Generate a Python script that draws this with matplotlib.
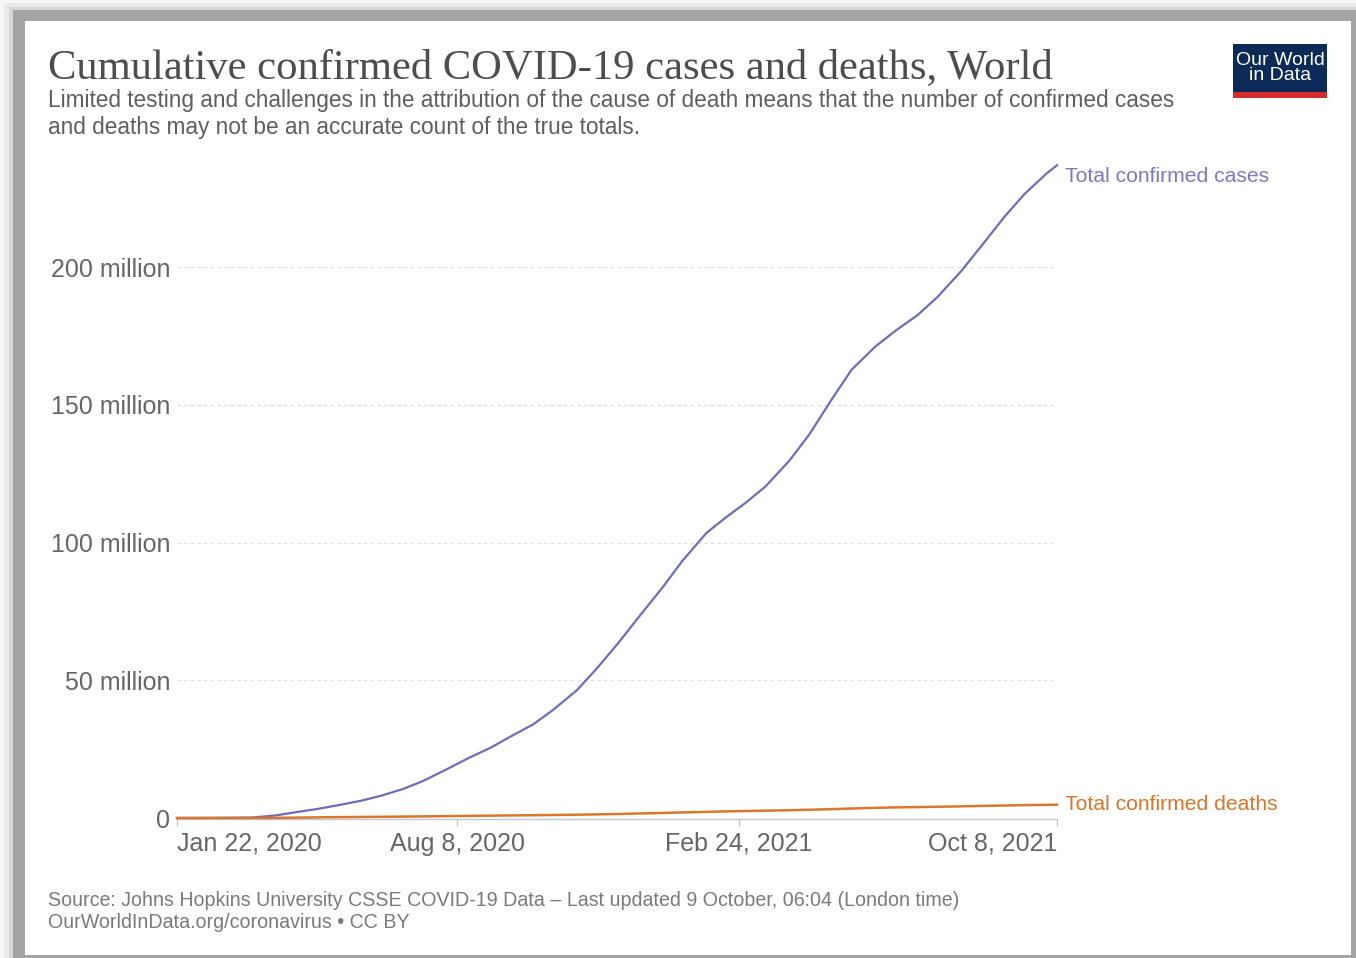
"""Cumulative confirmed COVID-19 cases and deaths, World (Our World in Data style)."""

import numpy as np
import matplotlib
matplotlib.use("Agg")
import matplotlib.pyplot as plt
import matplotlib.dates as mdates
from matplotlib.patches import Rectangle

W, H = 1356, 958

# Twice-monthly snapshots of the world totals (millions)
dates = np.array([
    "2020-01-22", "2020-03-01", "2020-03-15", "2020-04-01", "2020-04-15",
    "2020-05-01", "2020-05-15", "2020-06-01", "2020-06-15", "2020-07-01",
    "2020-07-15", "2020-08-01", "2020-08-15", "2020-09-01", "2020-09-15",
    "2020-10-01", "2020-10-15", "2020-11-01", "2020-11-15", "2020-12-01",
    "2020-12-15", "2021-01-01", "2021-01-15", "2021-02-01", "2021-02-15",
    "2021-03-01", "2021-03-15", "2021-04-01", "2021-04-15", "2021-05-01",
    "2021-05-15", "2021-06-01", "2021-06-15", "2021-07-01", "2021-07-15",
    "2021-08-01", "2021-08-15", "2021-09-01", "2021-09-15", "2021-10-01",
    "2021-10-08",
], dtype="datetime64[D]")
cases_m = [0.0006, 0.088, 0.167, 0.93, 2.08,
           3.3, 4.6, 6.3, 8.1, 10.6,
           13.5, 17.8, 21.5, 25.6, 29.6,
           34.0, 39.2, 46.4, 54.2, 63.9,
           73.0, 83.8, 93.4, 103.5, 109.2,
           114.5, 120.4, 129.8, 139.2, 152.0,
           162.7, 171.2, 176.8, 182.6, 189.1,
           198.6, 207.5, 218.5, 226.6, 234.2,
           237.0]
deaths_m = [0.00002, 0.003, 0.0065, 0.047, 0.136,
            0.234, 0.31, 0.375, 0.44, 0.513,
            0.58, 0.68, 0.77, 0.85, 0.94,
            1.01, 1.1, 1.19, 1.31, 1.47,
            1.64, 1.83, 2.03, 2.23, 2.41,
            2.54, 2.67, 2.82, 3.0, 3.21,
            3.44, 3.69, 3.86, 3.96, 4.08,
            4.23, 4.39, 4.54, 4.68, 4.78,
            4.84]

tick_dates = np.array(["2020-01-22", "2020-08-08", "2021-02-24", "2021-10-08"],
                      dtype="datetime64[D]")
tick_labels = ["Jan 22, 2020", "Aug 8, 2020", "Feb 24, 2021", "Oct 8, 2021"]
y_ticks_m = [0, 50, 100, 150, 200]
y_labels = ["0", "50 million", "100 million", "150 million", "200 million"]

CASES_C = "#6f6db8"
DEATHS_C = "#d9782d"
SANS = "Liberation Sans"


def fx(px):
    return px / W


def fy(py):
    return 1 - py / H


fig = plt.figure(figsize=(W / 100, H / 100), dpi=100)
fig.patch.set_facecolor("#f6f6f6")

# screenshot frame: soft grey shadow bands, then the white card
for off, col in [(4, "#ebebeb"), (9, "#d6d6d6"), (13, "#a4a4a4")]:
    fig.add_artist(Rectangle((fx(off), 0), 1 - fx(off), fy(off * 0.75),
                             transform=fig.transFigure, facecolor=col,
                             edgecolor="none", zorder=-3))
fig.add_artist(Rectangle((fx(25), fy(955)), fx(1351 - 25), (955 - 21) / H,
                         transform=fig.transFigure, facecolor="white",
                         edgecolor="none", zorder=-2))

# titles
fig.text(fx(48), fy(78), "Cumulative confirmed COVID-19 cases and deaths, World",
         family="Liberation Serif", fontsize=30.7, color="#4d4d4d", va="baseline")
fig.text(fx(48), fy(107), "Limited testing and challenges in the attribution of "
         "the cause of death means that the number of confirmed cases",
         family=SANS, fontsize=16.3, color="#5e5e5e", va="baseline")
fig.text(fx(48), fy(134), "and deaths may not be an accurate count of the true totals.",
         family=SANS, fontsize=16.3, color="#5e5e5e", va="baseline")

# logo
fig.add_artist(Rectangle((fx(1233), fy(92)), fx(94), 48 / H,
                         transform=fig.transFigure, facecolor="#0b2a57",
                         edgecolor="none"))
fig.add_artist(Rectangle((fx(1233), fy(98)), fx(94), 6 / H,
                         transform=fig.transFigure, facecolor="#d42b2b",
                         edgecolor="none"))
fig.text(fx(1280), fy(68), "Our World\nin Data", family=SANS, fontsize=14,
         color="white", ha="center", va="center", linespacing=0.9)

# plot area
ax = fig.add_axes([fx(177), fy(818), fx(1057 - 177), (818 - 157) / H])
ax.set_facecolor("none")
# spine position first: moving a spine resets the axis ticks
for side in ("top", "right", "left"):
    ax.spines[side].set_visible(False)
ax.spines["bottom"].set_color("#c2c6d4")
ax.spines["bottom"].set_linewidth(1.0)
ax.spines["bottom"].set_position(("outward", 1))

x = mdates.date2num(dates)
cases = np.array(cases_m) * 1e6
deaths = np.array(deaths_m) * 1e6
ax.plot(x, cases, color=CASES_C, linewidth=1.6, clip_on=False, zorder=3)
ax.plot(x, deaths, color=DEATHS_C, linewidth=1.8, clip_on=False, zorder=4)

xt = mdates.date2num(tick_dates)
ax.set_xlim(xt[0], xt[-1])
ax.set_ylim(0, 240e6)
ax.tick_params(axis="y", length=0, pad=5)
ax.tick_params(axis="x", length=5, width=0.8, color="#b8bccb", pad=4)
ax.set_yticks(np.array(y_ticks_m) * 1e6, y_labels)
ax.set_xticks(xt, tick_labels)
for lbl in ax.get_yticklabels() + ax.get_xticklabels():
    lbl.set_fontfamily(SANS)
    lbl.set_fontsize(18)
    lbl.set_color("#666666")
xl = ax.get_xticklabels()
xl[0].set_ha("left")
xl[-1].set_ha("right")
ax.grid(axis="y", color="#dddddd", linestyle=(0, (3, 3)), linewidth=0.8)
ax.set_axisbelow(True)

# line-end labels
ax.annotate("Total confirmed cases", (x[-1], cases[-1]),
            xytext=(6, -8), textcoords="offset points", family=SANS,
            fontsize=15.2, color="#7b79c4", va="center", annotation_clip=False)
ax.annotate("Total confirmed deaths", (x[-1], deaths[-1]),
            xytext=(6, 0), textcoords="offset points", family=SANS,
            fontsize=15.2, color="#d87528", va="center", annotation_clip=False)

# source note
fig.text(fx(48), fy(906), "Source: Johns Hopkins University CSSE COVID-19 Data "
         "\u2013 Last updated 9 October, 06:04 (London time)",
         family=SANS, fontsize=14.1, color="#7a7a7a", va="baseline")
fig.text(fx(48), fy(928), "OurWorldInData.org/coronavirus \u2022 CC BY",
         family=SANS, fontsize=14.1, color="#7a7a7a", va="baseline")

fig.savefig("out.png", dpi=100, facecolor=fig.get_facecolor())
